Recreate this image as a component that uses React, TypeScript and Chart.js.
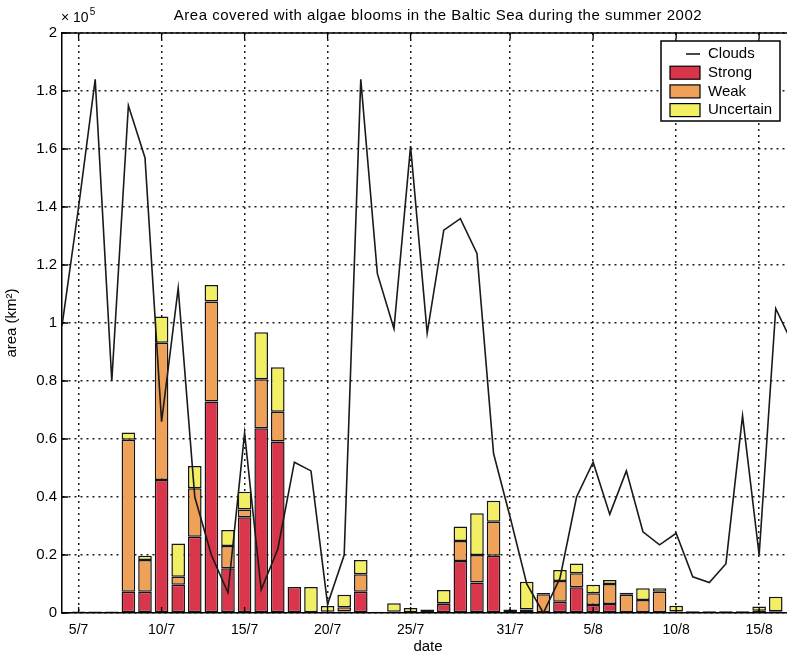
import React, { useEffect, useRef } from 'react';
import { Chart, registerables } from 'chart.js';

Chart.register(...registerables);

// Dates (daily, 4/7 .. 17/8 2002)
const dates = [
  '4/7', '5/7', '6/7', '7/7', '8/7', '9/7', '10/7', '11/7', '12/7', '13/7', '14/7', '15/7', '16/7', '17/7',
  '18/7', '19/7', '20/7', '21/7', '22/7', '23/7', '24/7', '25/7', '26/7', '27/7', '28/7', '29/7', '30/7', '31/7',
  '1/8', '2/8', '3/8', '4/8', '5/8', '6/8', '7/8', '8/8', '9/8', '10/8', '11/8', '12/8', '13/8', '14/8', '15/8', '16/8', '17/8',
];

// Cloud covered area (x 10^5 km2)
const clouds = [
  0.99, 1.40, 1.84, 0.80, 1.75, 1.57, 0.66, 1.12, 0.40, 0.20, 0.07, 0.62, 0.08, 0.22,
  0.52, 0.49, 0.03, 0.20, 1.84, 1.17, 0.98, 1.61, 0.965, 1.32, 1.36, 1.24, 0.55, 0.33,
  0.10, 0.00, 0.12, 0.40, 0.52, 0.34, 0.49, 0.28, 0.235, 0.275, 0.125, 0.105, 0.17, 0.68, 0.20, 1.05, 0.93,
];

// Algae bloom areas (x 10^5 km2), null = no observation
const strong = [
  null, 0, 0, 0, 0.073, 0.073, 0.459, 0.097, 0.263, 0.729, 0.154, 0.330, 0.637, 0.591,
  0.090, 0, 0, 0.005, 0.073, 0, 0, 0, 0, 0.031, 0.179, 0.105, 0.197, 0,
  0, 0, 0.039, 0.089, 0.028, 0.031, 0, 0, 0, 0, 0, 0, 0, 0, 0, 0, null,
];
const weak = [
  null, 0.005, 0.005, 0.005, 0.524, 0.110, 0.473, 0.028, 0.167, 0.345, 0.077, 0.027, 0.169, 0.103,
  0, 0, 0.004, 0.015, 0.061, 0.004, 0.004, 0.003, 0.012, 0.003, 0.069, 0.095, 0.118, 0.012,
  0.012, 0.065, 0.071, 0.048, 0.040, 0.069, 0.063, 0.045, 0.073, 0.005, 0.006, 0.006, 0.006, 0.006, 0.008, 0.006, null,
];
const uncertain = [
  null, 0, 0, 0, 0.025, 0.014, 0.090, 0.115, 0.077, 0.057, 0.055, 0.061, 0.162, 0.153,
  0, 0.090, 0.020, 0.043, 0.049, 0, 0.030, 0.014, 0, 0.045, 0.050, 0.144, 0.072, 0,
  0.096, 0.004, 0.038, 0.034, 0.029, 0.014, 0.007, 0.040, 0.012, 0.020, 0, 0, 0, 0, 0.014, 0.050, null,
];

const xTickLabels = ['5/7', '10/7', '15/7', '20/7', '25/7', '31/7', '5/8', '10/8', '15/8'];
const yTickValues = [0, 0.2, 0.4, 0.6, 0.8, 1, 1.2, 1.4, 1.6, 1.8, 2];
const yTickLabels = ['0', '0.2', '0.4', '0.6', '0.8', '1', '1.2', '1.4', '1.6', '1.8', '2'];

const TITLE = 'Area covered with algae blooms in the Baltic Sea during the summer 2002';
const FONT = '"Liberation Sans", Arial, Helvetica, sans-serif';

const COLORS = {
  clouds: '#1a1a1a',
  strong: '#d9354b',
  weak: '#f0a158',
  uncertain: '#f3ef62',
};

const toPoints = (arr: (number | null)[]) =>
  arr.map((v, i) => ({ x: i, y: v })).filter((p) => p.y !== null);

const decorPlugin = {
  id: 'decor',
  afterDraw(chart: any) {
    const { ctx, chartArea: ca, scales } = chart;
    const xs = scales.x;
    const ys = scales.y;
    ctx.save();
    // top border
    ctx.strokeStyle = '#000';
    ctx.lineWidth = 1.5;
    ctx.beginPath();
    ctx.moveTo(ca.left, ca.top);
    ctx.lineTo(ca.right, ca.top);
    ctx.stroke();
    // inward ticks
    ctx.lineWidth = 1.3;
    ctx.beginPath();
    ys.ticks.forEach((t: any) => {
      const y = ys.getPixelForValue(t.value);
      ctx.moveTo(ca.left, y);
      ctx.lineTo(ca.left + 6, y);
    });
    xs.ticks.forEach((t: any) => {
      const x = xs.getPixelForValue(t.value);
      ctx.moveTo(x, ca.bottom);
      ctx.lineTo(x, ca.bottom - 6);
      ctx.moveTo(x, ca.top);
      ctx.lineTo(x, ca.top + 6);
    });
    ctx.stroke();

    // exponent label
    ctx.fillStyle = '#000';
    ctx.textAlign = 'left';
    ctx.textBaseline = 'alphabetic';
    ctx.font = `14px ${FONT}`;
    const base = '\u00d7 10';
    ctx.fillText(base, ca.left - 1, 22);
    const w = ctx.measureText(base).width;
    ctx.font = `10px ${FONT}`;
    ctx.fillText('5', ca.left - 1 + w + 1, 15);

    // title
    ctx.font = `15px ${FONT}`;
    try { (ctx as any).letterSpacing = '0.5px'; } catch (e) {}
    ctx.textAlign = 'center';
    ctx.fillText(TITLE, (ca.left + ca.right) / 2 + 10, 20);
    try { (ctx as any).letterSpacing = '0px'; } catch (e) {}

    // legend
    const boxRight = ca.right - 14;
    const boxW = 119;
    const boxLeft = boxRight - boxW;
    const boxTop = ca.top + 8;
    const boxH = 80;
    ctx.fillStyle = '#fff';
    ctx.fillRect(boxLeft, boxTop, boxW, boxH);
    ctx.strokeStyle = '#000';
    ctx.lineWidth = 1.5;
    ctx.strokeRect(boxLeft, boxTop, boxW, boxH);
    chart.data.datasets.forEach((ds: any, i: number) => {
      const rowY = boxTop + 13 + i * 18.7;
      if (ds.type === 'line') {
        ctx.strokeStyle = ds.borderColor;
        ctx.lineWidth = 1.6;
        ctx.beginPath();
        ctx.moveTo(boxLeft + 25, rowY);
        ctx.lineTo(boxLeft + 39, rowY);
        ctx.stroke();
      } else {
        ctx.fillStyle = ds.backgroundColor;
        ctx.fillRect(boxLeft + 9, rowY - 6.5, 30, 13);
        ctx.strokeStyle = '#000';
        ctx.lineWidth = 1.2;
        ctx.strokeRect(boxLeft + 9, rowY - 6.5, 30, 13);
      }
      ctx.fillStyle = '#000';
      ctx.font = `15px ${FONT}`;
      ctx.textAlign = 'left';
      ctx.textBaseline = 'middle';
      ctx.fillText(ds.label, boxLeft + 47, rowY);
    });
    ctx.restore();
  },
};

export default function App() {
  const ref = useRef<HTMLCanvasElement>(null);

  useEffect(() => {
    document.body.style.margin = '0';
    const canvas = ref.current;
    if (!canvas) return;
    const xTickValues = xTickLabels.map((l) => dates.indexOf(l));

    const barCommon = {
      type: 'bar' as const,
      stack: 'blooms',
      order: 1,
      borderColor: '#151515',
      borderWidth: 1.5,
      borderSkipped: false,
      barPercentage: 0.82,
      categoryPercentage: 1,
    };

    const chart = new Chart(canvas, {
      type: 'bar',
      data: {
        datasets: [
          {
            type: 'line',
            label: 'Clouds',
            data: toPoints(clouds),
            borderColor: COLORS.clouds,
            backgroundColor: COLORS.clouds,
            borderWidth: 1.6,
            pointRadius: 0,
            tension: 0,
            fill: false,
            stack: 'clouds',
            order: 0,
          } as any,
          { ...barCommon, label: 'Strong', data: toPoints(strong), backgroundColor: COLORS.strong } as any,
          { ...barCommon, label: 'Weak', data: toPoints(weak), backgroundColor: COLORS.weak } as any,
          { ...barCommon, label: 'Uncertain', data: toPoints(uncertain), backgroundColor: COLORS.uncertain } as any,
        ],
      },
      options: {
        animation: false,
        responsive: false,
        devicePixelRatio: 1,
        layout: { padding: { top: 33, left: 0, right: 6, bottom: 0 } },
        plugins: {
          legend: { display: false },
          title: { display: false },
          tooltip: { enabled: false },
        },
        scales: {
          x: {
            type: 'linear',
            min: 0,
            max: 44.1,
            stacked: true,
            offset: false,
            afterBuildTicks: (s: any) => {
              s.ticks = xTickValues.map((v) => ({ value: v }));
            },
            afterFit: (s: any) => {
              s.height = 41;
            },
            ticks: {
              autoSkip: false,
              maxRotation: 0,
              minRotation: 0,
              padding: 9,
              color: '#000',
              font: { family: FONT, size: 14 },
              callback: (v: any) => {
                const i = xTickValues.indexOf(Number(v));
                return i >= 0 ? xTickLabels[i] : '';
              },
            },
            grid: { color: '#1e1e1e', lineWidth: 1.5, drawTicks: false, offset: false },
            border: { display: true, color: '#000', width: 1.5, dash: [2, 4] },
            title: {
              display: true,
              text: 'date',
              color: '#000',
              font: { family: FONT, size: 15, lineHeight: 1 },
              padding: { top: 0, bottom: 0 },
            },
          } as any,
          y: {
            type: 'linear',
            min: 0,
            max: 2,
            stacked: true,
            afterBuildTicks: (s: any) => {
              s.ticks = yTickValues.map((v) => ({ value: v }));
            },
            afterFit: (s: any) => {
              s.width = 62;
            },
            ticks: {
              padding: 5,
              color: '#000',
              font: { family: FONT, size: 15 },
              callback: (v: any, i: number) => yTickLabels[i],
            },
            grid: { color: '#1e1e1e', lineWidth: 1.5, drawTicks: false },
            border: { display: true, color: '#000', width: 1.5, dash: [2, 4] },
            title: {
              display: true,
              text: 'area (km\u00b2)',
              color: '#000',
              font: { family: FONT, size: 15 },
              padding: { top: 3, bottom: 0 },
            },
          } as any,
        },
      } as any,
      plugins: [decorPlugin],
    });

    return () => chart.destroy();
  }, []);

  return (
    <div style={{ position: 'fixed', left: 0, top: 0, width: 787, height: 654, overflow: 'hidden', background: '#fff' }}>
      <canvas ref={ref} width={800} height={654} style={{ display: 'block' }} />
    </div>
  );
}
